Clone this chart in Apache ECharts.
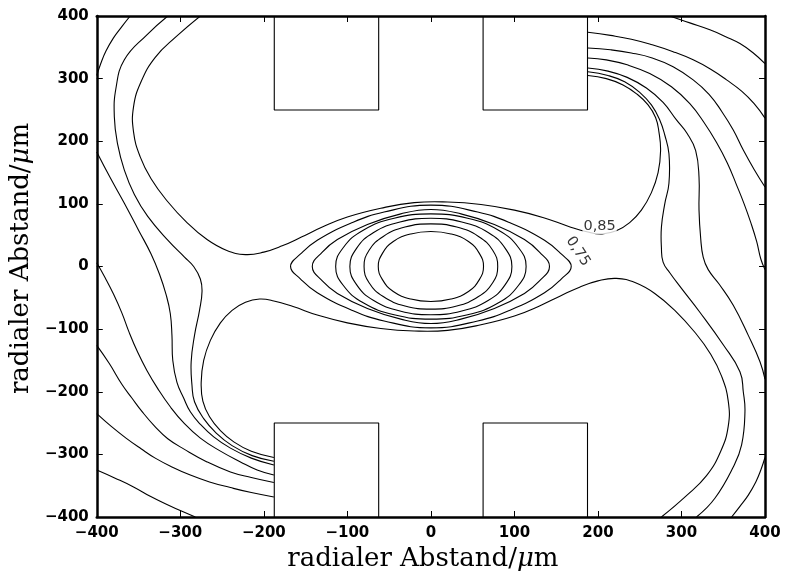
<!DOCTYPE html>
<html>
<head>
<meta charset="utf-8">
<script src="https://cdn.jsdelivr.net/npm/echarts@6/dist/echarts.min.js"></script>
<style>html,body{margin:0;padding:0;background:#fff}#c{width:786px;height:580px}</style>
</head>
<body>
<div id="c"></div>
<script>
// tick values
const xTicks = [-400,-300,-200,-100,0,100,200,300,400];
const yTicks = [-400,-300,-200,-100,0,100,200,300,400];

// closed central iso-lines (innermost to 0,75)
const lens1 = [[0,56],[24,52],[45,40],[58,21],[63,0],[58,-21],[45,-40],[24,-52],[0,-56],[-24,-52],[-45,-40],[-58,-21],[-63,0],[-58,21],[-45,40],[-24,52]];
const lens2 = [[0,68],[31,63],[57,48],[74,26],[80,0],[74,-26],[57,-48],[31,-63],[0,-68],[-31,-63],[-57,-48],[-74,-26],[-80,0],[-74,26],[-57,48],[-31,63]];
const lens3 = [[0,77],[37,71],[69,54],[89,29],[97,0],[89,-29],[69,-54],[37,-71],[0,-77],[-37,-71],[-69,-54],[-89,-29],[-97,0],[-89,29],[-69,54],[-37,71]];
const lens4 = [[0,84],[44,77],[81,58],[105,30],[114,0],[105,-30],[81,-58],[44,-77],[0,-84],[-44,-77],[-81,-58],[-105,-30],[-114,0],[-105,30],[-81,58],[-44,77]];
const lens5 = [[0,91],[36,84],[76,67],[112,43],[130,23],[142,0],[130,-23],[112,-43],[76,-67],[36,-84],[0,-91],[-36,-84],[-76,-67],[-112,-43],[-130,-23],[-142,0],[-130,23],[-112,43],[-76,67],[-36,84]];
const lens6 = [[0,98],[56,87],[96,69],[136,42],[156,20],[168,0],[156,-20],[136,-42],[96,-69],[56,-87],[0,-98],[-56,-87],[-96,-69],[-136,-42],[-156,-20],[-168,0],[-156,20],[-136,42],[-96,69],[-56,87]];

// 0,85 iso-line, two branches
const iso85Upper = [[-276,400],[-305,367],[-330,334],[-347,295],[-356,255],[-356,215],[-348,175],[-335,140],[-316,105],[-292,70],[-268,43],[-245,26],[-222,19],[-200,23],[-178,33],[-155,47],[-130,63],[-100,79],[-60,93],[-20,102],[20,103],[60,99],[100,90],[135,78],[165,64],[188,55],[205,52],[222,57],[238,70],[252,90],[264,118],[272,150],[275,185],[273,215],[269,238],[260,258],[247,275],[230,290],[210,300],[188,305]];
const iso85Lower = [[276,-400],[305,-367],[330,-334],[347,-295],[356,-255],[356,-215],[348,-175],[335,-140],[316,-105],[292,-70],[268,-43],[245,-26],[222,-19],[200,-23],[178,-33],[155,-47],[130,-63],[100,-79],[60,-93],[20,-102],[-20,-103],[-60,-99],[-100,-90],[-135,-78],[-165,-64],[-188,-55],[-205,-52],[-222,-57],[-238,-70],[-252,-90],[-264,-118],[-272,-150],[-275,-185],[-273,-215],[-265,-240],[-252,-262],[-236,-280],[-215,-295],[-188,-305]];

// outer iso-lines
const c1TL = [[-360,400],[-370,383],[-380,365],[-389,344],[-395,325],[-400,305]];
const c1BR = [[360,-400],[370,-383],[380,-365],[389,-344],[395,-325],[400,-305]];
const c2TL = [[-315,400],[-340,370],[-367,330],[-377,285],[-379,239],[-375,195],[-367,154],[-355,115],[-339,80],[-315,42],[-295,15],[-284,0],[-276,-20],[-274,-40],[-277,-70],[-283,-110],[-287,-152],[-286,-190],[-283,-216],[-272,-243],[-257,-266],[-238,-286],[-214,-302],[-188,-311]];
const c2BR = [[318,-400],[340,-370],[362,-320],[372,-285],[376,-232],[374,-200],[370,-168],[350,-125],[322,-73],[300,-35],[286,-10],[278,7],[276,30],[276,63],[280,100],[285,133],[285,180],[280,210],[274,234],[264,258],[250,278],[232,295],[212,305],[188,311]];
const c4TL = [[-400,183],[-384,142],[-367,101],[-350,58],[-335,20],[-325,-12],[-317,-45],[-312,-75],[-310,-110],[-309,-150],[-304,-185],[-296,-210],[-288,-232],[-276,-252],[-260,-272],[-240,-290],[-215,-306],[-188,-317]];
const c4BR = [[400,-180],[394,-152],[380,-110],[362,-62],[345,-28],[332,-5],[326,15],[323,45],[321,90],[321,143],[317,185],[307,212],[294,234],[278,262],[258,285],[235,302],[212,312],[188,317]];
const c5TL = [[-400,6],[-390,-18],[-380,-44],[-370,-74],[-361,-106],[-351,-137],[-340,-166],[-327,-195],[-312,-224],[-295,-251],[-276,-274],[-253,-294],[-228,-312],[-208,-325],[-188,-333]];
const c5BR = [[400,-5],[395,12],[390,40],[383,70],[375,100],[366,130],[355,165],[342,198],[327,230],[310,260],[288,287],[262,308],[235,322],[210,330],[188,333]];
const c6TR = [[188,349],[215,346],[240,341],[265,333],[290,319],[314,298],[333,275],[348,248],[362,218],[374,186],[387,155],[400,127]];
const c6BL = [[-188,-345],[-215,-337],[-240,-328],[-268,-312],[-295,-292],[-315,-275],[-330,-256],[-345,-233],[-358,-210],[-370,-188],[-385,-155],[-400,-126]];
const c7TR = [[188,374],[215,369],[240,363],[265,354],[290,343],[314,330],[335,315],[354,298],[372,280],[387,260],[400,237]];
const c7BL = [[-188,-368],[-215,-361],[-240,-353],[-265,-344],[-288,-333],[-310,-320],[-330,-306],[-347,-291],[-365,-274],[-383,-255],[-400,-235]];
const c8TR = [[286,400],[310,389],[334,378],[353,367],[370,356],[386,341],[400,324]];
const c8BL = [[-282,-400],[-298,-391],[-316,-380],[-336,-367],[-356,-352],[-378,-338],[-400,-325]];

// electrodes
const electrodes = [
  [[-187.5,400],[-187.5,250],[-62.5,250],[-62.5,400]],
  [[62.5,400],[62.5,250],[187.5,250],[187.5,400]],
  [[-187.5,-400],[-187.5,-250],[-62.5,-250],[-62.5,-400]],
  [[62.5,-400],[62.5,-250],[187.5,-250],[187.5,-400]]
];

// contour labels
const contourLabels = [
  {name:'0,85', value:[202,64], rot:0},
  {name:'0,75', value:[176,24], rot:-57}
];

const closedCurves = [lens1,lens2,lens3,lens4,lens5,lens6];
const openCurves = [iso85Upper,iso85Lower,c1TL,c1BR,c2TL,c2BR,c4TL,c4BR,c5TL,c5BR,c6TR,c6BL,c7TR,c7BL,c8TR,c8BL];

function curveSeries(pts, closed) {
  return {
    type:'custom', coordinateSystem:'cartesian2d', xAxisIndex:0, yAxisIndex:0,
    clip:true, silent:true, z:2, data:[pts[0]],
    renderItem: function (params, api) {
      return {
        type: closed ? 'polygon' : 'polyline',
        shape: {points: pts.map(p => api.coord(p)), smooth: 0.45},
        style: {stroke:'#000', fill:'none', lineWidth:1.1}
      };
    }
  };
}

const series = [];
closedCurves.forEach(d => series.push(curveSeries(d, true)));
openCurves.forEach(d => series.push(curveSeries(d, false)));
electrodes.forEach(d => series.push({
  type:'line', data:d, showSymbol:false, smooth:false, silent:true,
  lineStyle:{color:'#000', width:1.1}, z:2
}));
series.push({
  type:'scatter', symbolSize:1, itemStyle:{color:'rgba(0,0,0,0)'}, z:5, silent:true,
  data: contourLabels.map(l => ({name:l.name, value:l.value, label:{rotate:l.rot}})),
  label:{show:true, position:'inside', formatter:'{b}', color:'#000', fontFamily:'DejaVu Sans', fontSize:14.5, backgroundColor:'#fff', padding:[0,1]}
});

const fmt = v => String(v).replace('-', '\u2212');
const axisFont = {color:'#000', fontFamily:'DejaVu Sans', fontWeight:'bold', fontSize:15};
const richName = {a:{fontFamily:'DejaVu Serif', fontSize:26, color:'#000'}, b:{fontFamily:'DejaVu Serif', fontStyle:'italic', fontSize:26, color:'#000'}};
const axLine = {show:true, onZero:false, lineStyle:{color:'#000', width:2.5}};
const tick = {show:true, inside:true, length:6, lineStyle:{color:'#000', width:1}};

const chart = echarts.init(document.getElementById('c'));
chart.setOption({
  animation:false,
  backgroundColor:'#fff',
  grid:{left:96, right:21, top:16, bottom:63},
  xAxis:[
    {type:'value', min:-400, max:400, interval:100, position:'bottom', axisLine:axLine, axisTick:tick, splitLine:{show:false},
     axisLabel:Object.assign({margin:9, formatter:fmt}, axisFont),
     name:'{a|radialer Abstand/}{b|\u03bc}{a|m}', nameLocation:'middle', nameGap:28,
     nameTextStyle:{rich:richName, padding:[0,16,0,0]}},
    {type:'value', min:-400, max:400, interval:100, position:'top', axisLine:axLine, axisTick:tick, splitLine:{show:false}, axisLabel:{show:false}}
  ],
  yAxis:[
    {type:'value', min:-400, max:400, interval:100, position:'left', axisLine:axLine, axisTick:tick, splitLine:{show:false},
     axisLabel:Object.assign({margin:8, formatter:fmt}, axisFont),
     name:'{a|radialer Abstand/}{b|\u03bc}{a|m}', nameLocation:'middle', nameGap:48,
     nameTextStyle:{rich:richName, padding:[0,0,0,16]}},
    {type:'value', min:-400, max:400, interval:100, position:'right', axisLine:axLine, axisTick:tick, splitLine:{show:false}, axisLabel:{show:false}}
  ],
  series: series
});
</script>
</body>
</html>
